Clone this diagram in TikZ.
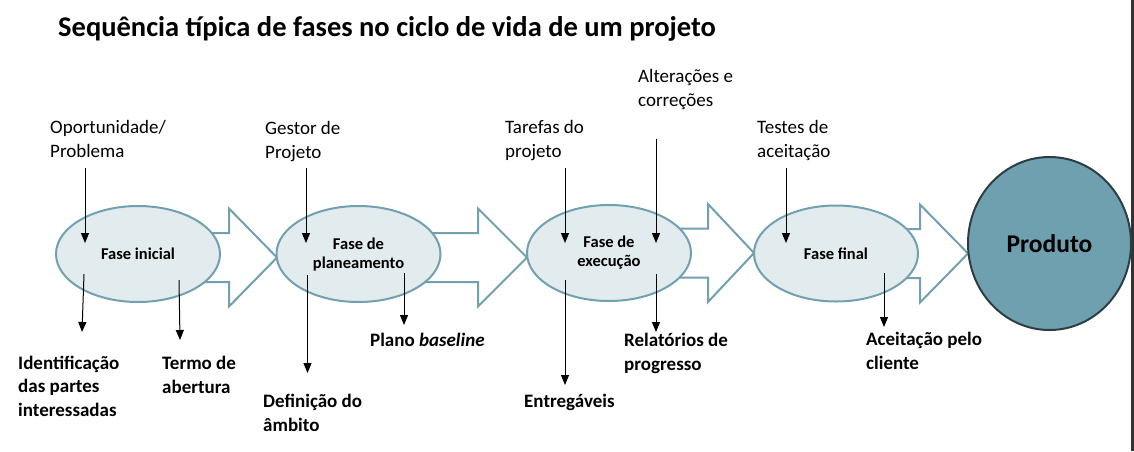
\documentclass[tikz,border=0pt]{standalone}
\usepackage{fontspec}
\setmainfont{Carlito}
\usetikzlibrary{shapes,arrows.meta,positioning,calc}
\definecolor{phaseline}{RGB}{113,160,174}
\definecolor{phasefill}{RGB}{226,235,238}
\definecolor{prodfill}{RGB}{110,160,175}
\definecolor{prodline}{RGB}{44,62,68}
\definecolor{rim}{RGB}{51,51,51}

\begin{document}
\begin{tikzpicture}[x=1pt,y=-1pt,
    phase/.style={ellipse,draw=phaseline,fill=phasefill,line width=2pt,minimum width=164pt,minimum height=96pt,inner sep=0pt,align=center,font=\fontsize{16.5}{19}\selectfont\bfseries},
    flow/.style={draw=phaseline,fill=white,line width=2pt,line join=miter},
    inlbl/.style={anchor=base west,align=left,inner sep=0pt,font=\fontsize{19}{24}\selectfont},
    outlbl/.style={anchor=base west,align=left,inner sep=0pt,font=\fontsize{19}{23.5}\selectfont\bfseries},
    feed/.style={-{Triangle[length=10pt,width=8pt]},line width=1pt}]
        \useasboundingbox (0,0) rectangle (1134,451);
        \fill[rim] (1131,0) rectangle (1134,451);
        % title
        \node[anchor=base west,inner sep=0pt,font=\fontsize{28.5}{32}\selectfont\bfseries] (title) at (58,36) {Sequência típica de fases no ciclo de vida de um projeto};
        % block arrows between the phases
        \foreach \xs/\xh/\xt/\yc in {150/229/277/257.5, 370/478/527/257.5, 620/708/754/253, 850/920/968/253.5}
            \draw[flow] (\xs,\yc-24.5) -- (\xh,\yc-24.5) -- (\xh,\yc-49) -- (\xt,\yc) -- (\xh,\yc+49) -- (\xh,\yc+24.5) -- (\xs,\yc+24.5) -- cycle;
        % phases
        \node[phase] (ini) at (138,254) {Fase inicial};
        \node[phase] (plan) at (358.5,254) {Fase de\\planeamento};
        \node[phase] (exe) at (609,253) {Fase de\\execução};
        \node[phase] (fin) at (836,253.5) {Fase final};
        \node[ellipse,draw=prodline,fill=prodfill,line width=2pt,minimum width=163pt,minimum height=173pt,inner sep=0pt,font=\fontsize{25.5}{30}\selectfont\bfseries] (prod) at (1049.5,243.5) {Produto};
        % inputs (base = last line)
        \node[inlbl] (op) at (50,157) {Oportunidade/\\Problema};
        \node[inlbl] (gest) at (265,158) {Gestor de\\Projeto};
        \node[inlbl] (tar) at (505,157) {Tarefas do\\projeto};
        \node[inlbl] (alt) at (638,106) {Alterações e\\correções};
        \node[inlbl] (test) at (757,157) {Testes de\\aceitação};
        % outputs
        \node[outlbl] (ident) at (18,416) {Identificação\\das partes\\interessadas};
        \node[outlbl] (termo) at (162,393) {Termo de\\abertura};
        \node[outlbl] (defi) at (263,431) {Definição do\\âmbito};
        \node[outlbl] (plano) at (370,346) {Plano \textit{baseline}};
        \node[outlbl] (entr) at (524,407) {Entregáveis};
        \node[outlbl] (rel) at (624,370) {Relatórios de\\progresso};
        \node[outlbl] (acei) at (866,369) {Aceitação pelo\\cliente};
        % ends of the thin arrows
        \coordinate (op-a) at (85,168);   \coordinate (op-b) at (85,243);
        \coordinate (gest-a) at (306,168); \coordinate (gest-b) at (306,243);
        \coordinate (tar-a) at (565,168);  \coordinate (tar-b) at (565,243);
        \coordinate (alt-a) at (656,139);  \coordinate (alt-b) at (656,243);
        \coordinate (test-a) at (786,168); \coordinate (test-b) at (786,243);
        \coordinate (ident-a) at (84,274); \coordinate (ident-b) at (82,332);
        \coordinate (termo-a) at (179,280); \coordinate (termo-b) at (180,340);
        \coordinate (defi-a) at (307.5,275); \coordinate (defi-b) at (307.5,373);
        \coordinate (plano-a) at (404,273); \coordinate (plano-b) at (404,325);
        \coordinate (entr-a) at (565,280); \coordinate (entr-b) at (565,385);
        \coordinate (rel-a) at (656,274);  \coordinate (rel-b) at (656,332);
        \coordinate (acei-a) at (884,273); \coordinate (acei-b) at (884,327);
        \foreach \n in {op,gest,tar,alt,test,ident,termo,defi,plano,entr,rel,acei}
            \draw[feed] (\n-a) -- (\n-b);
    \end{tikzpicture}
\end{document}
